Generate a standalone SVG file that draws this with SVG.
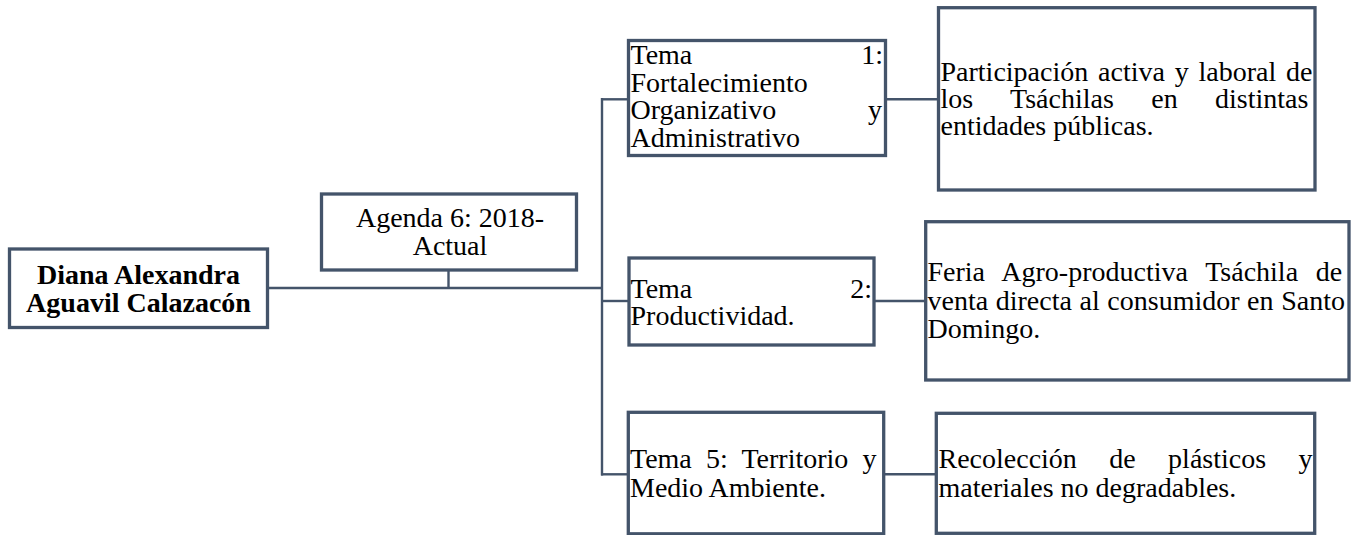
<svg xmlns="http://www.w3.org/2000/svg" width="1361" height="535" viewBox="0 0 1361 535">
<style>
.box{fill:#ffffff;stroke:#44546A;stroke-width:3.3}
.con line{stroke:#44546A;stroke-width:2.4;fill:none}
text{font-family:"Liberation Serif","Times New Roman",serif;font-size:28px;fill:#000000}
.b{font-weight:bold}
.c{text-anchor:middle}
.e{text-anchor:end}
</style>
<rect width="1361" height="535" fill="#ffffff"/>
<g id="connectors" class="con">
<line x1="268" y1="288" x2="602" y2="288"/>
<line x1="448.5" y1="271" x2="448.5" y2="288"/>
<line x1="602" y1="98" x2="602" y2="475.5"/>
<line x1="601" y1="99.3" x2="628" y2="99.3"/>
<line x1="601" y1="301" x2="628" y2="301"/>
<line x1="601" y1="474.3" x2="628" y2="474.3"/>
<line x1="885" y1="99.3" x2="938" y2="99.3"/>
<line x1="874" y1="301" x2="926" y2="301"/>
<line x1="883" y1="474.3" x2="936" y2="474.3"/>
</g>
<g id="diana">
<rect class="box" x="9.5" y="249" width="258" height="78.5"/>
<text class="b c" x="138.5" y="283.5">Diana Alexandra</text>
<text class="b c" x="138.5" y="311.5">Aguavil Calazacón</text>
</g>
<g id="agenda">
<rect class="box" x="321.5" y="194" width="255" height="76"/>
<text class="c" x="450" y="226.5">Agenda 6: 2018-</text>
<text class="c" x="450" y="255">Actual</text>
</g>
<g id="tema1">
<rect class="box" x="628.5" y="40.5" width="257" height="115"/>
<text x="630.5" y="64">Tema</text>
<text class="e" x="883" y="64">1:</text>
<text x="630.5" y="91.5">Fortalecimiento</text>
<text x="630.5" y="119">Organizativo</text>
<text class="e" x="882" y="119">y</text>
<text x="630.5" y="146.5">Administrativo</text>
</g>
<g id="participacion">
<rect class="box" x="938.5" y="7.7" width="376.5" height="182.3"/>
<text x="940.5" y="80.5" word-spacing="2.8">Participación activa y laboral de</text>
<text x="940.5" y="107.5" word-spacing="30.4">los Tsáchilas en distintas</text>
<text x="940.5" y="134.5">entidades públicas.</text>
</g>
<g id="tema2">
<rect class="box" x="629" y="258" width="245" height="87"/>
<text x="630.5" y="298">Tema</text>
<text class="e" x="872" y="298">2:</text>
<text x="630.5" y="325">Productividad.</text>
</g>
<g id="feria">
<rect class="box" x="925.7" y="221.7" width="423.3" height="158.3"/>
<text x="927.5" y="281" word-spacing="10.8">Feria Agro-productiva Tsáchila de</text>
<text x="927.5" y="309.5" word-spacing="0.6">venta directa al consumidor en Santo</text>
<text x="927.5" y="338">Domingo.</text>
</g>
<g id="tema5">
<rect class="box" x="628.3" y="412.3" width="255.4" height="121.5"/>
<text x="630" y="468" word-spacing="7.2">Tema 5: Territorio y</text>
<text x="630" y="496.5">Medio Ambiente.</text>
</g>
<g id="recoleccion">
<rect class="box" x="936.3" y="413.3" width="378.4" height="120"/>
<text x="938.5" y="468" word-spacing="25.4">Recolección de plásticos y</text>
<text x="938.5" y="496.5">materiales no degradables.</text>
</g>
</svg>
